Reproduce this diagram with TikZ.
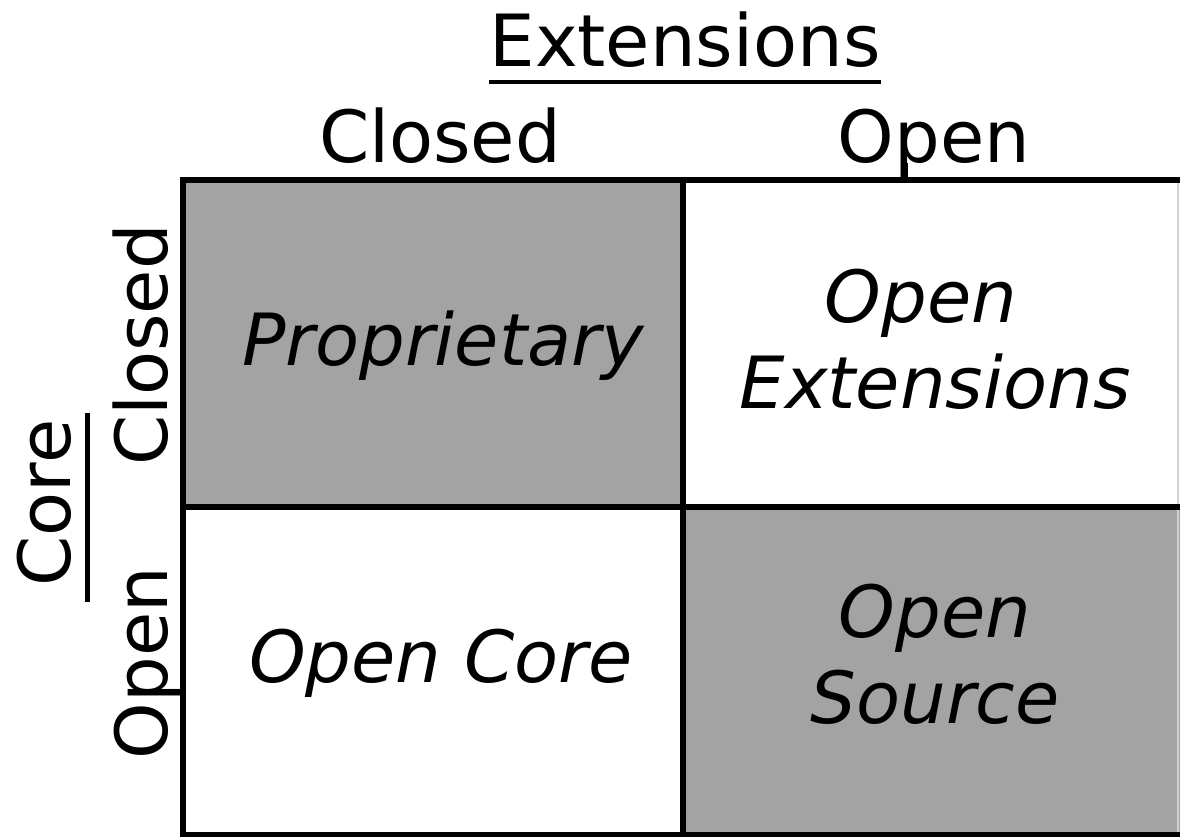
\documentclass[tikz,border=0pt]{standalone}
\usepackage{fontspec}
\setmainfont{DejaVu Sans}
\begin{document}
\begin{tikzpicture}[x=1pt,y=-1pt,
  lbl/.style={inner sep=0pt,anchor=base,font=\fontsize{72}{86}\selectfont},
  cell/.style={inner sep=0pt,anchor=base,font=\fontsize{72}{86}\selectfont\itshape},
  grid/.style={line width=6pt,black},
  thin/.style={line width=3pt,black}]
\useasboundingbox (0,0) rectangle (1180,837);
\fill[white] (0,0) rectangle (1180,837);
% cells
\fill[fill={rgb,255:red,163;green,163;blue,163}] (183,180) rectangle (683,507);
\fill[fill={rgb,255:red,163;green,163;blue,163}] (683,507) rectangle (1180,834.5);
% faint right edge
\draw[line width=1.5pt,gray!35] (1178,180) -- (1178,834);
% grid lines
\coordinate (tl) at (183,180);
\coordinate (tr) at (1180,180);
\coordinate (bl) at (183,834.5);
\coordinate (br) at (1180,834.5);
\coordinate (ml) at (183,507);
\coordinate (mr) at (1180,507);
\coordinate (mt) at (683,180);
\coordinate (mb) at (683,834.5);
\draw[grid] (180,180) -- (tr);
\draw[grid] (tl) -- (bl);
\draw[grid] (180,834.5) -- (br);
\draw[grid] (ml) -- (mr);
\draw[grid] (mt) -- (mb);
% top labels
\node[lbl] (ext) at (685,67) {Extensions};
\draw[line width=4.5pt] ([yshift=-15pt]ext.base west) -- ([yshift=-15pt]ext.base east);
\node[lbl] (tclosed) at (440,163) {Closed};
\node[lbl] (topen) at (934,163) {Open};
\coordinate (ttick) at (906,163);
\draw[thin] (ttick) -- (ttick |- tl);
% left labels
\node[lbl,rotate=90] (lclosed) at (167,345) {Closed};
\node[lbl,rotate=90] (lopen) at (167,663) {Open};
\node[lbl,rotate=90] (core) at (70,503) {Core};
\coordinate (cu1) at (87,413);
\coordinate (cu2) at (87,602);
\draw[line width=5pt] (cu1) -- (cu2);
\coordinate (ltick) at (172,691);
\draw[thin] (ltick) -- (ltick -| tl);
% cell texts
\node[cell] (prop) at (443,365) {Proprietary};
\node[cell] (ocore) at (441,682) {Open Core};
\node[cell] (oe1) at (921,322) {Open};
\node[cell] (oe2) at (935,408) {Extensions};
\node[cell] (os1) at (935,637) {Open};
\node[cell] (os2) at (935,723) {Source};
\end{tikzpicture}
\end{document}
